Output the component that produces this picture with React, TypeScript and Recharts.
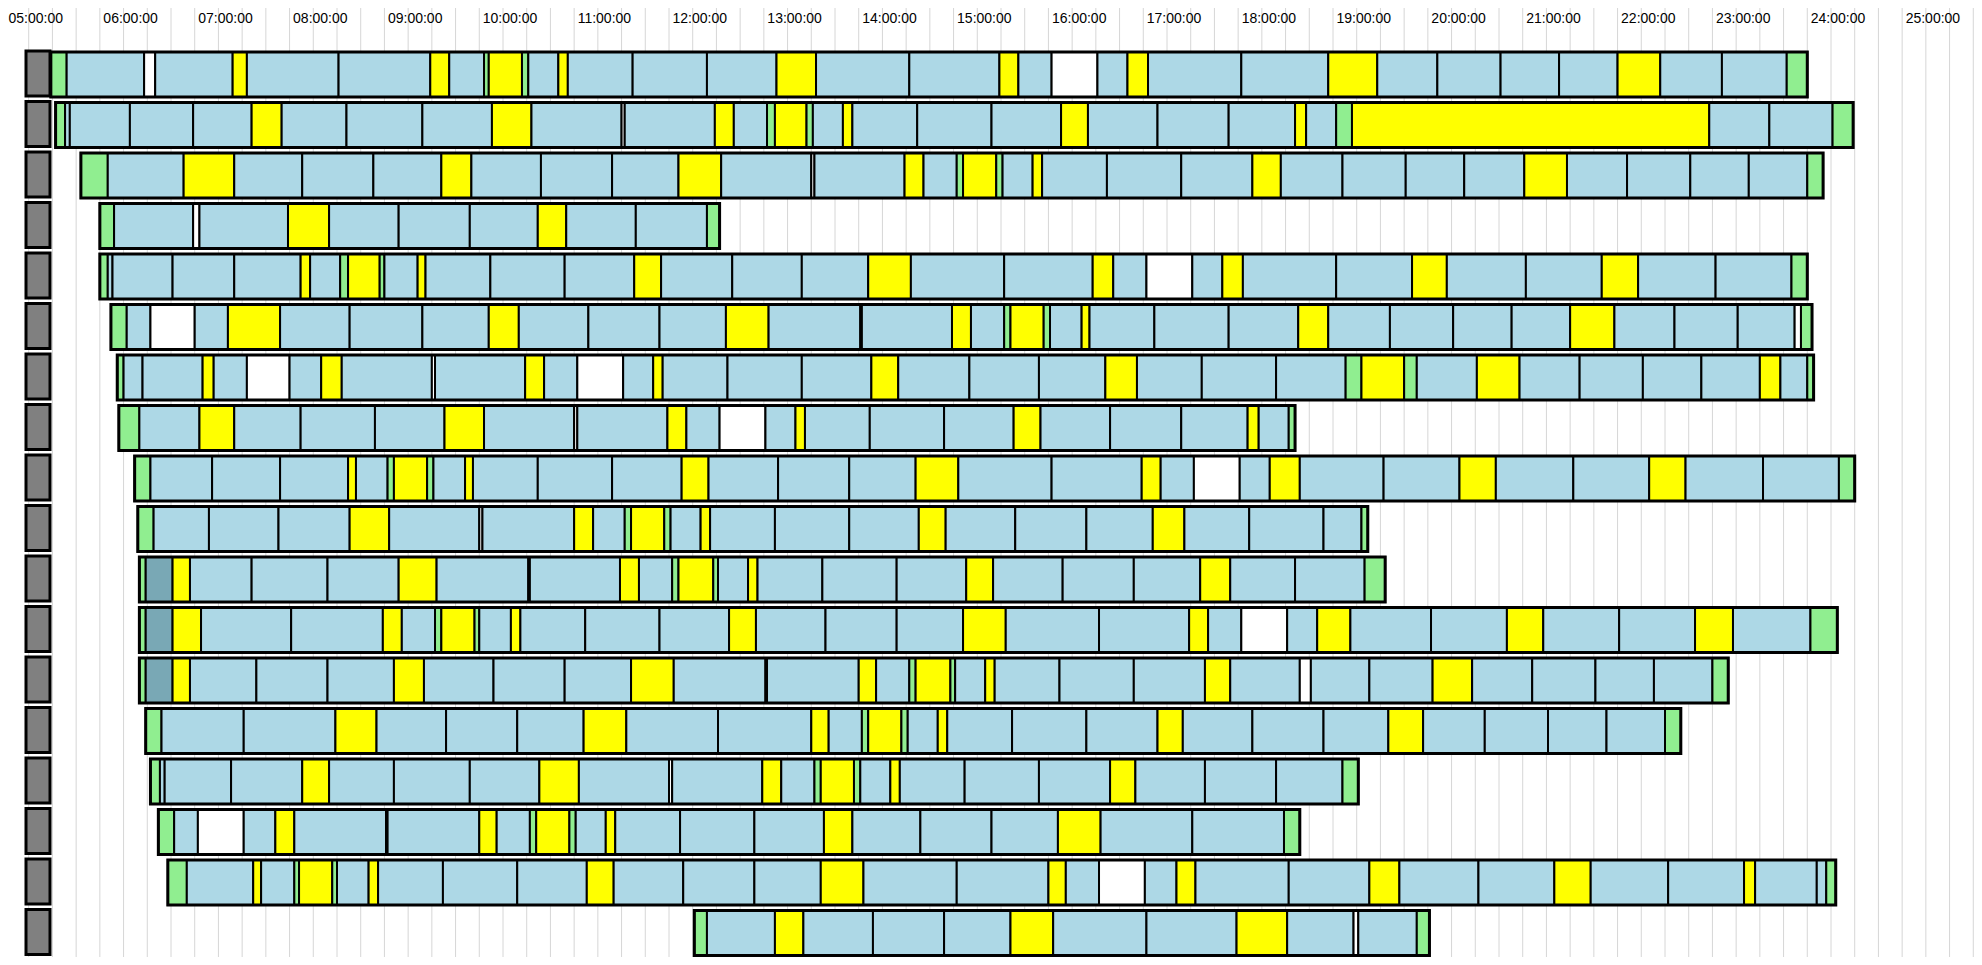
import React from 'react';
import { BarChart, Bar, XAxis, YAxis, CartesianGrid, Cell } from 'recharts';

// Times are minutes since midnight; kinds: B=service, Y=layover, G=pull-in/out, W=gap, T=deadhead
const r01Times = [329, 339, 388, 395, 444, 453, 511, 569, 581, 603, 606, 627, 631, 650, 656, 697, 744, 788, 813, 872, 929, 941, 962, 991, 1010, 1023, 1082, 1137, 1168, 1206, 1246, 1283, 1320, 1347, 1386, 1427, 1440];
const r01Kinds = 'GBWBYBBYBGYGBYBBBYBBYBWBYBBYBBBBYBBG';
const r02Times = [332, 338, 341, 379, 419, 456, 475, 516, 564, 608, 633, 690, 692, 749, 761, 782, 787, 807, 811, 830, 836, 877, 924, 968, 985, 1029, 1074, 1116, 1123, 1142, 1152, 1378, 1416, 1456, 1469];
const r02Kinds = 'GBBBBYBBBYBWBYBGYGBYBBBYBBBYBGYBBG';
const r03Times = [348, 365, 413, 445, 488, 533, 576, 595, 639, 684, 726, 753, 810, 812, 869, 881, 902, 906, 927, 931, 950, 956, 997, 1044, 1089, 1107, 1146, 1186, 1223, 1261, 1288, 1326, 1366, 1403, 1440, 1450];
const r03Kinds = 'GBYBBBYBBBYBWBYBGYGBYBBBYBBBBYBBBBG';
const r04Times = [360, 369, 419, 423, 479, 505, 549, 594, 637, 655, 699, 744, 752];
const r04Kinds = 'GBWBYBBBYBBG';
const r05Times = [360, 365, 368, 406, 445, 487, 493, 512, 517, 537, 540, 561, 566, 607, 654, 698, 715, 760, 804, 846, 873, 932, 988, 1001, 1022, 1051, 1070, 1083, 1142, 1190, 1212, 1262, 1310, 1333, 1382, 1430, 1440];
const r05Kinds = 'GBBBBYBGYGBYBBBYBBBYBBYBWBYBBYBBYBBG';
const r06Times = [367, 377, 392, 420, 441, 474, 518, 564, 606, 625, 669, 714, 756, 783, 841, 842, 899, 911, 932, 936, 957, 961, 981, 986, 1027, 1074, 1118, 1137, 1176, 1216, 1253, 1290, 1318, 1356, 1396, 1432, 1436, 1443];
const r06Kinds = 'GBWBYBBBYBBBYBWBYBGYGBYBBBYBBBBYBBBWG';
const r07Times = [371, 375, 387, 425, 432, 453, 480, 500, 513, 570, 572, 629, 641, 662, 691, 710, 716, 757, 804, 848, 865, 910, 954, 996, 1016, 1057, 1104, 1148, 1158, 1185, 1193, 1231, 1258, 1296, 1336, 1373, 1410, 1423, 1440, 1444];
const r07Kinds = 'GBBYBWBYBWBYBWBYBBBYBBBYBBBGYGBYBBBBYBG';
const r08Times = [372, 385, 423, 445, 487, 534, 578, 603, 660, 662, 719, 731, 752, 781, 800, 806, 847, 894, 938, 955, 999, 1044, 1086, 1093, 1112, 1116];
const r08Kinds = 'GBYBBBYBWBYBWBYBBBYBBBYBG';
const r09Times = [382, 392, 431, 474, 517, 522, 542, 546, 567, 571, 591, 596, 637, 684, 728, 745, 789, 834, 876, 903, 962, 1019, 1031, 1052, 1081, 1100, 1119, 1172, 1220, 1243, 1292, 1340, 1363, 1412, 1460, 1470];
const r09Kinds = 'GBBBYBGYGBYBBBYBBBYBBYBWBYBBYBBYBBG';
const r10Times = [384, 394, 429, 473, 518, 543, 600, 602, 660, 672, 692, 696, 717, 721, 740, 746, 787, 834, 878, 895, 939, 984, 1026, 1046, 1087, 1134, 1158, 1162];
const r10Kinds = 'GBBBYBWBYBGYGBYBBBYBBBYBBBG';
const r11Times = [385, 389, 406, 417, 456, 504, 549, 573, 631, 632, 689, 701, 722, 726, 748, 751, 770, 776, 817, 864, 908, 925, 969, 1014, 1056, 1075, 1116, 1160, 1173];
const r11Kinds = 'GTYBBBYBWBYBGYGBYBBBYBBBYBBG';
const r12Times = [385, 389, 406, 424, 481, 539, 551, 572, 576, 597, 600, 620, 626, 667, 714, 758, 775, 819, 864, 906, 933, 992, 1049, 1061, 1082, 1111, 1130, 1151, 1202, 1250, 1273, 1321, 1369, 1393, 1442, 1459];
const r12Kinds = 'GTYBBYBGYGBYBBBYBBBYBBYBWBYBBYBBYBG';
const r13Times = [385, 389, 406, 417, 459, 504, 546, 565, 609, 654, 696, 723, 781, 782, 840, 851, 872, 876, 898, 901, 920, 926, 967, 1014, 1059, 1075, 1119, 1126, 1163, 1203, 1228, 1266, 1306, 1343, 1380, 1390];
const r13Kinds = 'GTYBBBYBBBYBWBYBGYGBYBBBYBWBBYBBBBG';
const r14Times = [389, 399, 451, 509, 535, 579, 624, 666, 693, 751, 810, 821, 842, 846, 867, 871, 890, 896, 937, 984, 1029, 1045, 1089, 1134, 1175, 1197, 1236, 1276, 1313, 1350, 1360];
const r14Kinds = 'GBBYBBBYBBYBGYGBYBBBYBBBYBBBBG';
const r15Times = [392, 398, 401, 443, 488, 505, 546, 594, 638, 663, 720, 722, 779, 791, 812, 816, 837, 841, 860, 866, 907, 954, 999, 1015, 1059, 1104, 1146, 1156];
const r15Kinds = 'GBBBYBBBYBWBYBGYGBYBBBYBBBG';
const r16Times = [397, 407, 422, 451, 471, 483, 541, 542, 600, 611, 632, 636, 657, 661, 680, 686, 727, 774, 818, 836, 879, 924, 966, 993, 1051, 1109, 1119];
const r16Kinds = 'GBWBYBWBYBGYGBYBBBYBBBYBBG';
const r17Times = [403, 415, 457, 462, 483, 486, 507, 510, 530, 536, 577, 624, 668, 685, 729, 774, 816, 843, 902, 960, 971, 992, 1021, 1041, 1053, 1112, 1163, 1182, 1232, 1280, 1303, 1352, 1400, 1407, 1446, 1452, 1458];
const r17Kinds = 'GBYBGYGBYBBBYBBBYBBYBWBYBBYBBYBBYBBG';
const r18Times = [736, 744, 787, 805, 849, 894, 936, 963, 1022, 1079, 1111, 1153, 1156, 1193, 1201];
const r18Kinds = 'GBYBBBYBBYBWBG';

const ROW_IDS = ['r01', 'r02', 'r03', 'r04', 'r05', 'r06', 'r07', 'r08', 'r09', 'r10', 'r11', 'r12', 'r13', 'r14', 'r15', 'r16', 'r17', 'r18'];
const ROW_TIMES = [r01Times, r02Times, r03Times, r04Times, r05Times, r06Times, r07Times, r08Times, r09Times, r10Times, r11Times, r12Times, r13Times, r14Times, r15Times, r16Times, r17Times, r18Times];
const ROW_KINDS = [r01Kinds, r02Kinds, r03Kinds, r04Kinds, r05Kinds, r06Kinds, r07Kinds, r08Kinds, r09Kinds, r10Kinds, r11Kinds, r12Kinds, r13Kinds, r14Kinds, r15Kinds, r16Kinds, r17Kinds, r18Kinds];

const HOUR_VALUES = [300, 360, 420, 480, 540, 600, 660, 720, 780, 840, 900, 960, 1020, 1080, 1140, 1200, 1260, 1320, 1380, 1440, 1500];
const HOUR_LABELS = ['05:00:00', '06:00:00', '07:00:00', '08:00:00', '09:00:00', '10:00:00', '11:00:00', '12:00:00', '13:00:00', '14:00:00', '15:00:00', '16:00:00', '17:00:00', '18:00:00', '19:00:00', '20:00:00', '21:00:00', '22:00:00', '23:00:00', '24:00:00', '25:00:00'];
const QUARTER_TICKS = Array.from({ length: 84 }, (_, i) => 300 + i * 15);

const KIND_COLORS: Record<string, string> = {
  B: '#ADD8E6',
  Y: '#FFFF00',
  G: '#90EE90',
  W: '#FFFFFF',
  T: '#79A8B5',
};

type Row = { id: string; times: number[]; kinds: string; span: [number, number] };

const data: Row[] = ROW_IDS.map((id, i) => ({
  id,
  times: ROW_TIMES[i],
  kinds: ROW_KINDS[i],
  span: [ROW_TIMES[i][0], ROW_TIMES[i][ROW_TIMES[i].length - 1]],
}));

const MAX_SEG = Math.max(...ROW_KINDS.map((k) => k.length));

const segKeys = Array.from({ length: MAX_SEG }, (_, i) => (d: Row) => {
  if (i < d.kinds.length) return [d.times[i], d.times[i + 1]];
  const last = d.times[d.times.length - 1];
  return [last, last];
});

const FONT = "'Liberation Sans', Arial, sans-serif";

const HourTick = (props: any) => {
  const { x, payload } = props;
  const idx = HOUR_VALUES.indexOf(payload.value);
  if (idx < 0) return <g />;
  return (
    <text x={x + 3.5} y={23} fontSize={14} fontFamily={FONT} fill="#000">
      {HOUR_LABELS[idx]}
    </text>
  );
};

const RowHeader = (props: any) => {
  const { y } = props;
  return <rect x={26} y={y - 23.25} width={24} height={45} fill="#808080" stroke="#000" strokeWidth={3} />;
};

const hourCoords = (props: any) => {
  const scale = props?.xAxis?.scale;
  if (typeof scale !== 'function') return [];
  return HOUR_VALUES.map((v) => scale(v));
};

export default function App() {
  return (
    <div style={{ margin: -8, width: 1982, height: 965, overflow: 'hidden', background: '#fff' }}>
      <BarChart
        layout="vertical"
        width={1997}
        height={965}
        data={data}
        margin={{ top: 4, right: 0, bottom: 0, left: 4 }}
        barSize={45}
        barGap={-45}
      >
        <CartesianGrid horizontal={false} stroke="#d6d6d6" syncWithTicks />
        <CartesianGrid horizontal={false} stroke="#a8a8a8" verticalCoordinatesGenerator={hourCoords} />
        <XAxis
          type="number"
          domain={[300, 1560]}
          allowDataOverflow
          ticks={QUARTER_TICKS}
          interval={0}
          orientation="top"
          height={1}
          axisLine={false}
          tickLine={false}
          tick={<HourTick />}
        />
        <YAxis
          type="category"
          dataKey="id"
          width={1}
          axisLine={false}
          tickLine={false}
          interval={0}
          padding={{ top: 44, bottom: 7 }}
          tick={<RowHeader />}
        />
        {segKeys.map((fn, i) => (
          <Bar key={`seg-${i}`} dataKey={fn} barSize={45} stroke="#000" strokeWidth={2} isAnimationActive={false}>
            {data.map((d, j) => (
              <Cell key={`c-${i}-${j}`} fill={i < d.kinds.length ? KIND_COLORS[d.kinds[i]] : 'none'} />
            ))}
          </Bar>
        ))}
        <Bar dataKey="span" barSize={45} fill="none" stroke="#000" strokeWidth={3} isAnimationActive={false} />
      </BarChart>
    </div>
  );
}
